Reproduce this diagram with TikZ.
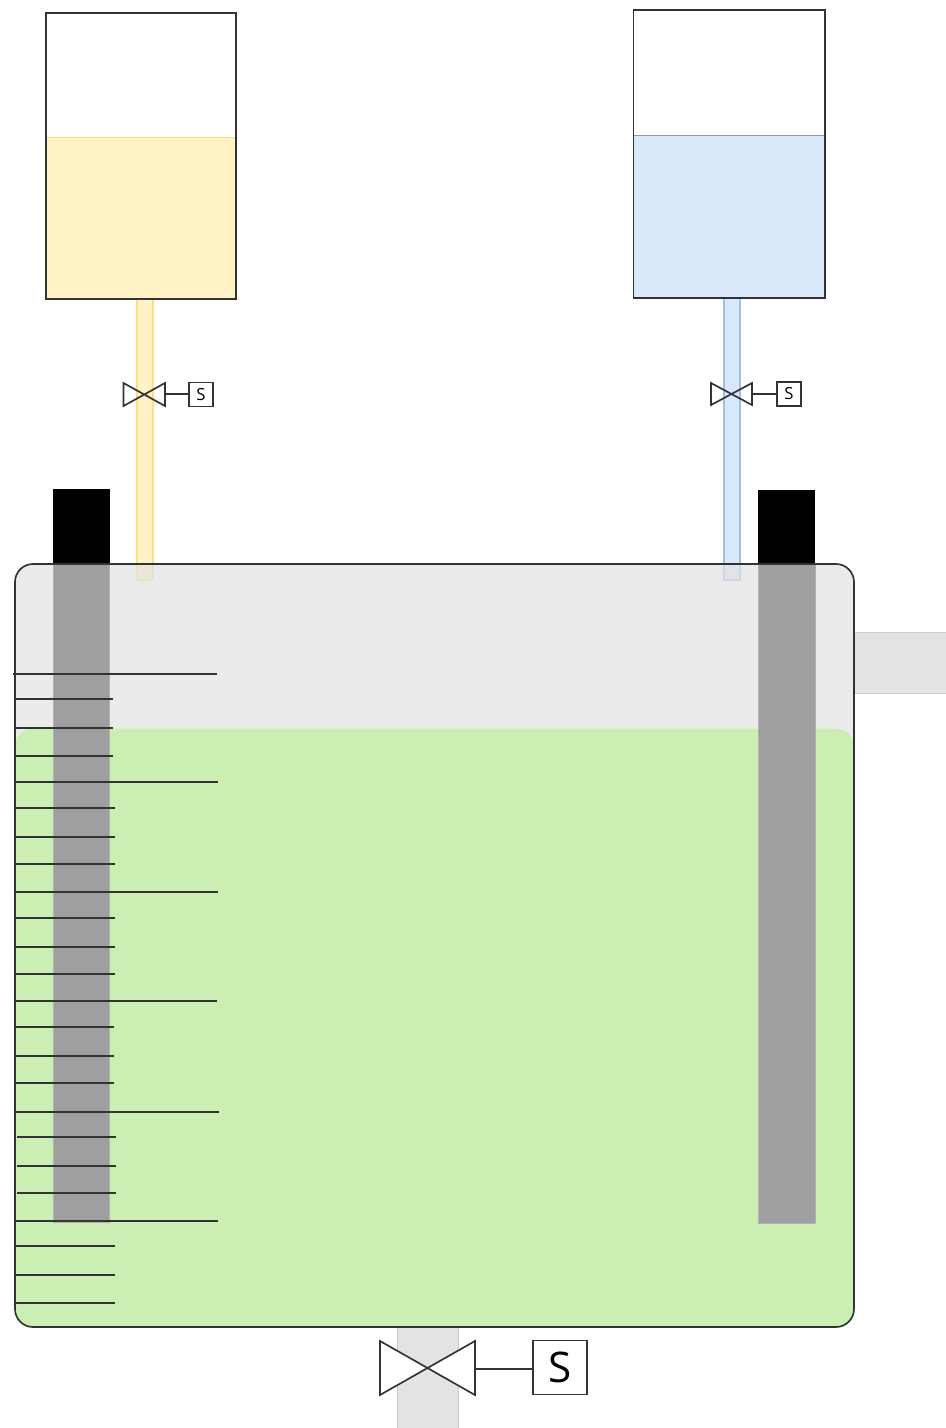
\documentclass[tikz,border=0pt]{standalone}
\usepackage{fontspec}
\setmainfont{Open Sans}
\usepackage{tikz}
\usetikzlibrary{calc}
\definecolor{feedA}{HTML}{FFF2C4}
\definecolor{feedAline}{HTML}{FFDD80}
\definecolor{feedB}{HTML}{DAE8FC}
\definecolor{feedBline}{HTML}{A3BEE3}
\definecolor{liquid}{HTML}{CBEEB3}
\definecolor{pipegray}{HTML}{E3E3E3}
\definecolor{probegray}{HTML}{9F9F9F}
\tikzset{
	outline/.style={draw=black!80, line width=0.95pt},
	tick/.style={draw=black!80, line width=0.95pt},
	smallbox/.style={outline, fill=white, minimum size=0.48cm, inner sep=0pt, font=\fontsize{9.5}{10}\selectfont},
	bigbox/.style={outline, fill=white, minimum size=1.08cm, inner sep=0pt, font=\fontsize{24}{26}\selectfont}
}

\begin{document}
\begin{tikzpicture}[x=0.02cm, y=-0.02cm]

	\useasboundingbox (0,0) rectangle (946,1428);

	%pipes go first so the vessel covers their ends
	\draw[draw=feedAline, fill=feedA, line width=0.6pt] (137,298) rectangle (153,580);
	\draw[draw=feedBline, fill=feedB, line width=0.6pt] (724,298) rectangle (740,580);
	\draw[draw=pipegray!90!black, fill=pipegray, line width=0.4pt] (854,632.5) rectangle (947,693);
	\draw[draw=pipegray!90!black, fill=pipegray, line width=0.4pt] (397.5,1327) rectangle (458,1429);

	%supply tanks
	\fill[feedA] (46,137) rectangle (236,299);
	\draw[draw=feedAline, line width=0.4pt] (46,137) -- (236,137);
	\draw[outline] (46,13) rectangle (236,299);
	\fill[feedB] (633.5,135) rectangle (825,298);
	\draw[draw=feedBline!80!black, line width=0.4pt] (633.5,135) -- (825,135);
	\draw[outline] (633.5,10) rectangle (825,298);

	%vessel
	\fill[pipegray, fill opacity=0.7, rounded corners=0.36cm] (15,564) rectangle (854,1327);
	\fill[liquid, rounded corners=0.36cm] (15,728.5) rectangle (854,1327);

	%probes
	\fill[black] (53,489) rectangle (109.5,564);
	\fill[black] (758,490) rectangle (815,564);
	\draw[draw=probegray!80!white, fill=probegray, line width=0.3pt] (53,564) rectangle (109.5,1222);
	\draw[draw=probegray!80!white, fill=probegray, line width=0.3pt] (758,564) rectangle (815,1223);

	\draw[outline, rounded corners=0.36cm] (15,564) rectangle (854,1327);

	%scale on the left wall
	\draw[tick] (13,674) -- (217,674);
	\draw[tick] (16,699) -- (113,699);
	\draw[tick] (16,728) -- (113,728);
	\draw[tick] (16,755.9) -- (113,755.9);
	\draw[tick] (16,782) -- (218,782);
	\draw[tick] (16,808) -- (115,808);
	\draw[tick] (16,836.9) -- (115,836.9);
	\draw[tick] (16,863.9) -- (115,863.9);
	\draw[tick] (16,891.9) -- (218,891.9);
	\draw[tick] (16,917.9) -- (115,917.9);
	\draw[tick] (16,946.9) -- (115,946.9);
	\draw[tick] (16,973.9) -- (115,973.9);
	\draw[tick] (14,1001) -- (217,1001);
	\draw[tick] (16,1027) -- (114,1027);
	\draw[tick] (16,1056) -- (114,1056);
	\draw[tick] (16,1083) -- (114,1083);
	\draw[tick] (16,1111.9) -- (219,1111.9);
	\draw[tick] (17,1137) -- (116,1137);
	\draw[tick] (17,1166) -- (116,1166);
	\draw[tick] (17,1193) -- (116,1193);
	\draw[tick] (16,1220.9) -- (218,1220.9);
	\draw[tick] (16,1246) -- (115,1246);
	\draw[tick] (16,1275) -- (115,1275);
	\draw[tick] (16,1302.9) -- (115,1302.9);

	%valves
	\coordinate (V1) at (165,394);
	\coordinate (V2) at (752,394);
	\coordinate (V3) at (475,1369);
	\node (S1)[smallbox] at (201,394.5) {S};
	\node (S2)[smallbox] at (789,394) {S};
	\node (S3)[bigbox] at (560,1367.5) {S};

	\draw[outline, line join=miter] (123.5,383) -- (165,406) -- (165,383) -- (123.5,406) -- cycle;
	\draw[outline, line join=miter] (711,383) -- (752,405) -- (752,383) -- (711,405) -- cycle;
	\draw[outline, fill=white, line join=miter] (380,1341) -- (475,1395) -- (475,1341) -- (380,1395) -- cycle;

	\draw[outline] (V1) to (V1 -| S1.west);
	\draw[outline] (V2) to (V2 -| S2.west);
	\draw[outline] (V3) to (V3 -| S3.west);

\end{tikzpicture}
\end{document}
